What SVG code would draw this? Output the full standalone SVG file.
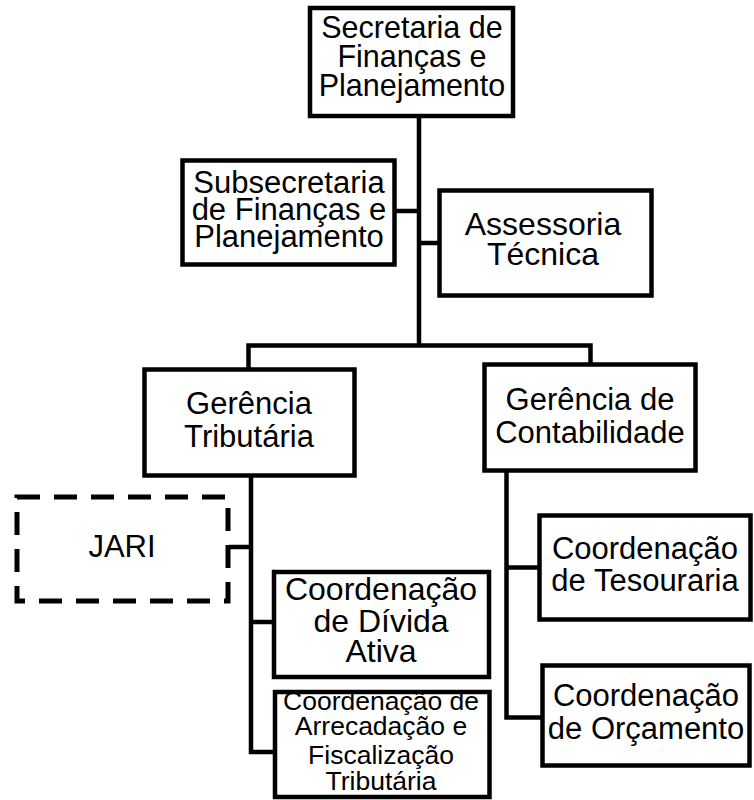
<svg xmlns="http://www.w3.org/2000/svg" width="754" height="800" viewBox="0 0 754 800">
<style>
.box{fill:#fff;stroke:#000;stroke-width:4.5}
.dash{fill:#fff;stroke:#000;stroke-width:5;stroke-dasharray:23 14}
.con{fill:none;stroke:#000;stroke-width:4.5;stroke-linejoin:miter}
text{font-family:"Liberation Sans",Arial,sans-serif;font-size:31px;fill:#000;text-anchor:middle}
.sm{font-size:26.5px}
</style>
<rect width="754" height="800" fill="#fff"/>
<g id="connectors">
<path class="con" d="M419,116 V346"/>
<path class="con" d="M395,211 H419"/>
<path class="con" d="M419,243 H440"/>
<path class="con" d="M248.5,369 V345.5 H590.5 V364"/>
<path class="con" d="M251,476 V752 H275"/>
<path class="con" d="M251,547 H229"/>
<path class="con" d="M251,622 H274"/>
<path class="con" d="M506.5,470 V717.5 H542"/>
<path class="con" d="M506.5,567.5 H540"/>
</g>
<g id="secretaria">
<rect class="box" x="310" y="8" width="203" height="108"/>
<text x="412" y="38" style="font-size:30.5px">Secretaria de</text>
<text x="412" y="67" style="font-size:30.5px">Finanças e</text>
<text x="412" y="96" style="font-size:30.5px">Planejamento</text>
</g>
<g id="subsecretaria">
<rect class="box" x="182.5" y="160.5" width="212" height="104"/>
<text x="289" y="193">Subsecretaria</text>
<text x="289" y="220">de Finanças e</text>
<text x="289" y="247">Planejamento</text>
</g>
<g id="assessoria">
<rect class="box" x="439.5" y="190.5" width="212" height="105"/>
<text x="543" y="235" style="font-size:32px">Assessoria</text>
<text x="543" y="265" style="font-size:32px">Técnica</text>
</g>
<g id="gerencia-tributaria">
<rect class="box" x="144.5" y="369.5" width="210" height="106"/>
<text x="249" y="414">Gerência</text>
<text x="249" y="447">Tributária</text>
</g>
<g id="gerencia-contabilidade">
<rect class="box" x="484.5" y="364.5" width="211" height="106"/>
<text x="590" y="410">Gerência de</text>
<text x="590" y="443">Contabilidade</text>
</g>
<g id="jari">
<rect class="dash" x="17" y="497" width="211" height="104"/>
<text x="122" y="557">JARI</text>
</g>
<g id="coord-divida">
<rect class="box" x="274" y="572" width="215" height="105"/>
<text x="381" y="600" style="font-size:32px">Coordenação</text>
<text x="381" y="632" style="font-size:32px">de Dívida</text>
<text x="381" y="662" style="font-size:32px">Ativa</text>
</g>
<g id="coord-arrecadacao">
<rect class="box" x="275" y="692" width="214.5" height="105"/>
<text class="sm" x="381" y="710">Coordenação de</text>
<text class="sm" x="381" y="735">Arrecadação e</text>
<text class="sm" x="381" y="764">Fiscalização</text>
<text class="sm" x="381" y="790">Tributária</text>
</g>
<g id="coord-tesouraria">
<rect class="box" x="539.5" y="515.5" width="211" height="104"/>
<text x="645" y="559">Coordenação</text>
<text x="645" y="591">de Tesouraria</text>
</g>
<g id="coord-orcamento">
<rect class="box" x="542.5" y="665.5" width="207" height="100"/>
<text x="646" y="706">Coordenação</text>
<text x="646" y="739">de Orçamento</text>
</g>
</svg>
